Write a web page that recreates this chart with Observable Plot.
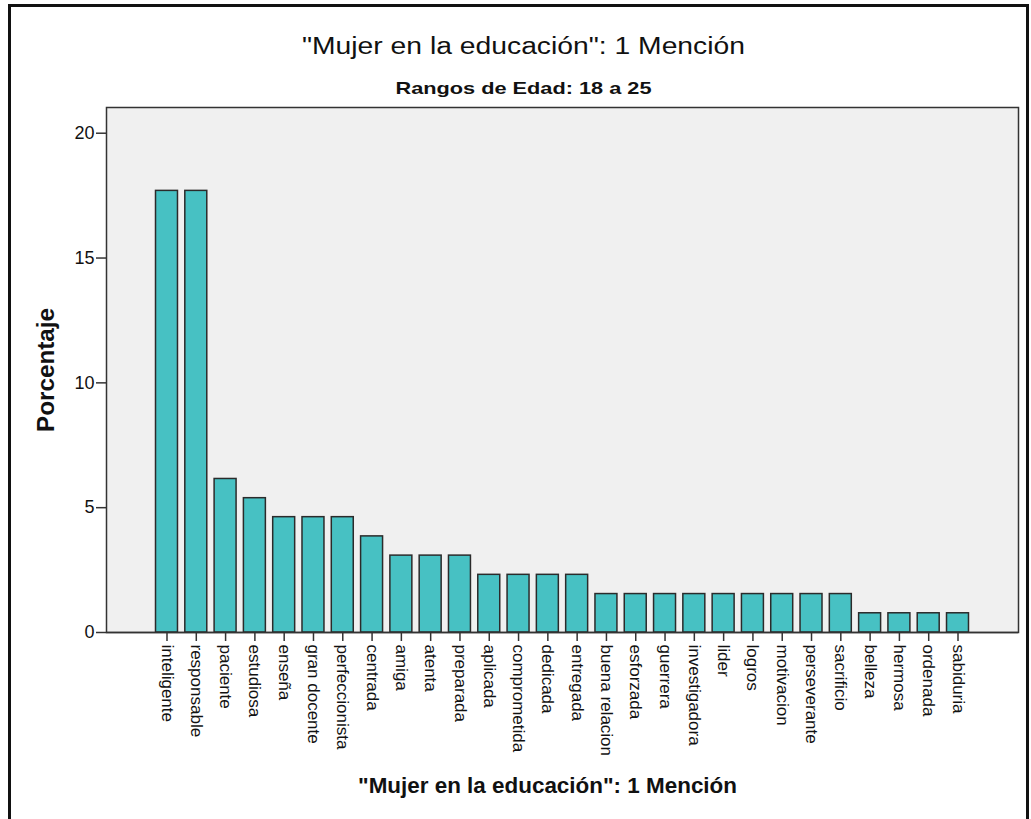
<!DOCTYPE html>
<html>
<head>
<meta charset="utf-8">
<script src="https://cdn.jsdelivr.net/npm/d3@7"></script>
<script src="https://cdn.jsdelivr.net/npm/@observablehq/plot@0.6"></script>
<style>
  html, body { margin: 0; padding: 0; background: #fff; }
  #wrap { position: relative; width: 1031px; height: 819px; overflow: hidden; }
  #border { position: absolute; left: 8px; top: 4px; width: 1015px; height: 830px; border: 3px solid #111; box-sizing: content-box; pointer-events: none; }
  svg { font-family: "Liberation Sans", Arial, sans-serif; }
</style>
</head>
<body>
<div id="wrap"><div id="border"></div></div>
<script>
const categories = ["inteligente","responsable","paciente","estudiosa","enseña","gran docente","perfeccionista","centrada","amiga","atenta","preparada","aplicada","comprometida","dedicada","entregada","buena relacion","esforzada","guerrera","investigadora","lider","logros","motivacion","perseverante","sacrificio","belleza","hermosa","ordenada","sabiduria"];
const porcentaje = [17.69,17.69,6.15,5.38,4.62,4.62,4.62,3.85,3.08,3.08,3.08,2.31,2.31,2.31,2.31,1.54,1.54,1.54,1.54,1.54,1.54,1.54,1.54,1.54,0.77,0.77,0.77,0.77];
const yTicks = [0,5,10,15,20];
const titulo = "\"Mujer en la educación\": 1 Mención";
const subtitulo = "Rangos de Edad: 18 a 25";
const xLabel = "\"Mujer en la educación\": 1 Mención";
const yLabel = "Porcentaje";

const data = categories.map((c, i) => ({cat: c, pct: porcentaje[i]}));

const chart = Plot.plot({
  width: 1031,
  height: 819,
  marginTop: 107,
  marginBottom: 187,
  marginLeft: 106,
  marginRight: 13,
  style: {fontFamily: "'Liberation Sans', Arial, sans-serif", color: "#111", background: "transparent"},
  x: {domain: categories, paddingInner: 0.25, paddingOuter: 1.69, round: false, label: null},
  y: {domain: [0, 21.03], label: null},
  marks: [
    Plot.frame({fill: "#f0f0f0", stroke: "#333", strokeWidth: 1.5}),
    Plot.barY(data, {x: "cat", y: "pct", fill: "#47c1c3", stroke: "#2b2b2b", strokeWidth: 1.5}),
    Plot.ruleY([0], {stroke: "#333", strokeWidth: 1.5}),
    Plot.axisY({ticks: yTicks, tickSize: 10, tickPadding: 2, fontSize: 18, label: null, stroke: "#333", strokeWidth: 1.5}),
    Plot.axisX({tickRotate: 90, tickSize: 9, tickPadding: 3, fontSize: 17, label: null, stroke: "#333", strokeWidth: 1.5}),
    Plot.text([titulo], {text: d => d, frameAnchor: "top", textAnchor: "middle", lineAnchor: "middle", dx: -39, dy: -61, fontSize: 23, fill: "#111", className: "t-titulo"}),
    Plot.text([subtitulo], {text: d => d, frameAnchor: "top", textAnchor: "middle", lineAnchor: "middle", dx: -39, dy: -19, fontSize: 17, fontWeight: "bold", fill: "#111", className: "t-subtitulo"}),
    Plot.text([xLabel], {text: d => d, frameAnchor: "bottom", textAnchor: "middle", lineAnchor: "middle", dx: -15, dy: 153, fontSize: 22, fontWeight: "bold", fill: "#111", className: "t-xlabel"}),
    Plot.text([yLabel], {text: d => d, frameAnchor: "left", textAnchor: "middle", lineAnchor: "middle", dx: -60, rotate: -90, fontSize: 23, fontWeight: "bold", fill: "#111", className: "t-ylabel"})
  ]
});
// stretch text horizontally like the original renderer
const lengths = {"t-titulo": 443, "t-subtitulo": 256, "t-xlabel": 379, "t-ylabel": 124};
for (const [k, len] of Object.entries(lengths)) {
  chart.querySelectorAll(`.${k} text, text.${k}`).forEach(el => {
    el.setAttribute("textLength", len);
    el.setAttribute("lengthAdjust", "spacingAndGlyphs");
  });
}
document.getElementById("wrap").prepend(chart);
</script>
</body>
</html>
